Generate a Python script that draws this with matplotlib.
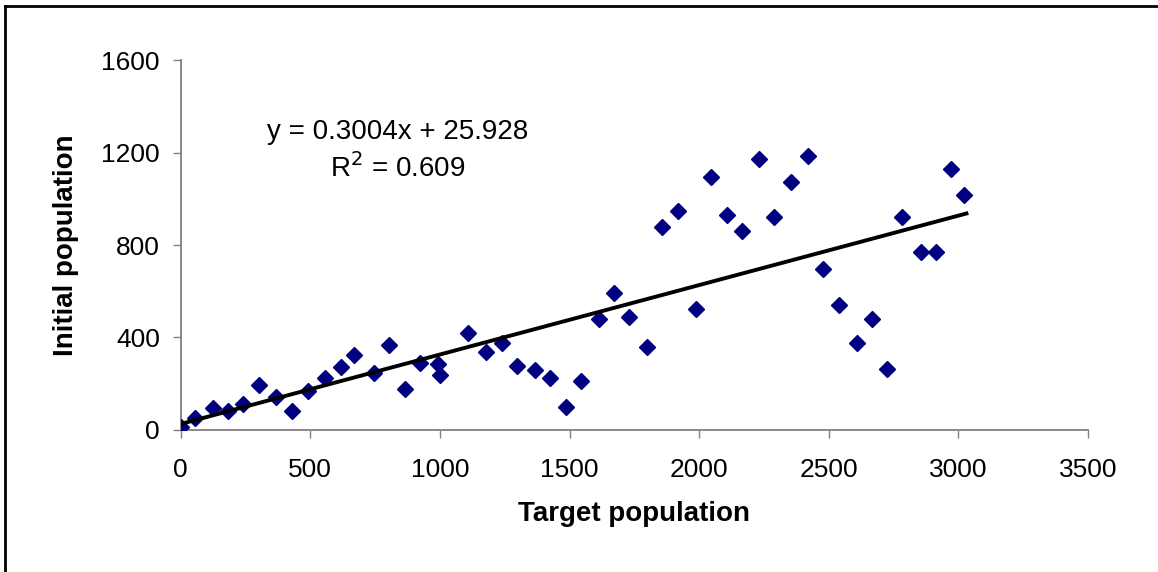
#scatter of initial vs target population with linear trend line

import matplotlib
matplotlib.use('Agg')
import matplotlib.pyplot as plt
import numpy as ny
from matplotlib.lines import Line2D

plt.rcParams['font.family'] = ['Liberation Sans', 'DejaVu Sans']

#values
target = [0, 55, 123, 184, 241, 303, 368, 430, 490, 557, 617, 668, 746, 805,
          865, 925, 994, 1000, 1109, 1177, 1238, 1298, 1366, 1424, 1485, 1543,
          1613, 1671, 1730, 1800, 1857, 1917, 1986, 2044, 2106, 2164, 2231,
          2289, 2353, 2420, 2478, 2539, 2607, 2667, 2726, 2784, 2854, 2913,
          2972, 3023]
initial = [15, 50, 94, 84, 111, 195, 144, 84, 170, 223, 274, 326, 248, 369,
           177, 291, 285, 238, 421, 337, 378, 277, 260, 224, 101, 213,
           480, 594, 490, 361, 879, 945, 523, 1093, 930, 860, 1170,
           922, 1074, 1187, 695, 540, 378, 480, 264, 920, 771, 771,
           1130, 1017]

slope = 0.3004
intercept = 25.928
r2 = 0.609

xticks = [0, 500, 1000, 1500, 2000, 2500, 3000, 3500]
yticks = [0, 400, 800, 1200, 1600]

fig = plt.figure(figsize=(11.58, 5.72), dpi=100)
ax = fig.add_axes([0.156, 0.2483, 0.7836, 0.6467])

ax.plot(target, initial, linestyle='none', marker='D', markersize=7.8,
        color='#000080', markeredgecolor='#000080', zorder=3)

xfit = ny.array([0, 3031])
ax.plot(xfit, slope * xfit + intercept, color='black', linewidth=2.8, zorder=4)

ax.set_xlim(0, 3500)
ax.set_ylim(0, 1600)
ax.set_xticks(xticks)
ax.set_yticks(yticks)
ax.tick_params(direction='out', length=6, width=1, color='#808080',
               labelsize=19, pad=14)
ax.tick_params(axis='y', pad=9)

for s in ['top', 'right']:
    ax.spines[s].set_visible(False)
for s in ['left', 'bottom']:
    ax.spines[s].set_color('#808080')
    ax.spines[s].set_linewidth(1.3)

ax.set_xlabel('Target population', fontsize=20, fontweight='bold', labelpad=14)
ax.set_ylabel('Initial population', fontsize=20, fontweight='bold', labelpad=16)

fig.text(398 / 1158, 1 - 132 / 572, 'y = 0.3004x + 25.928', fontsize=20,
         ha='center', va='center')
fig.text(398 / 1158, 1 - 168 / 572, 'R$^2$ = %.3f' % r2, fontsize=20,
         ha='center', va='center')

#chart border, only left and top edges are visible
fig.add_artist(Line2D([5 / 1158, 5 / 1158], [0, 1 - 6 / 572],
                      transform=fig.transFigure, color='black', linewidth=2))
fig.add_artist(Line2D([5 / 1158, 1], [1 - 6 / 572, 1 - 6 / 572],
                      transform=fig.transFigure, color='black', linewidth=2))

fig.savefig('out.png', dpi=100)
